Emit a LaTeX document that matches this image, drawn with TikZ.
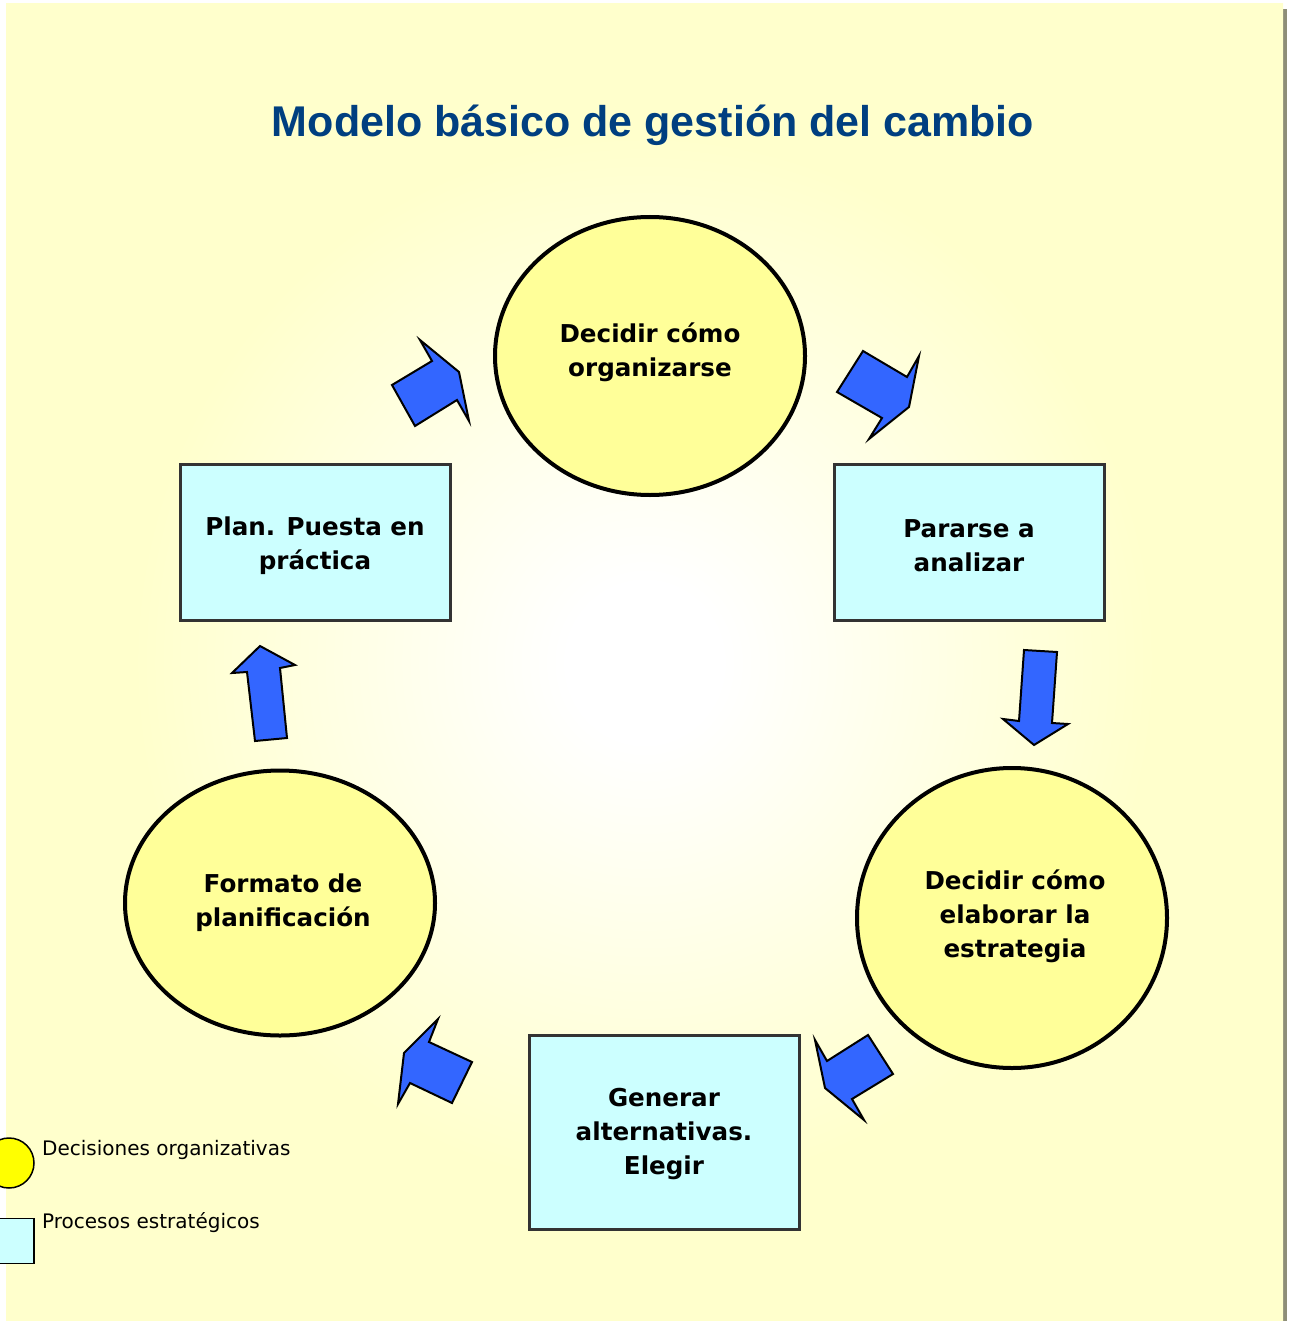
\documentclass[tikz,border=0pt]{standalone}
\usepackage{fontspec}
\setmainfont{DejaVu Sans}
\newfontfamily\titlefont{Liberation Sans}
\usetikzlibrary{shapes.geometric}
\definecolor{bgY}{HTML}{FFFFCC}
\definecolor{decY}{HTML}{FFFF99}
\definecolor{legY}{HTML}{FFFF00}
\definecolor{procC}{HTML}{CCFFFF}
\definecolor{arrowB}{HTML}{3366FF}
\definecolor{titleB}{HTML}{003F80}
\definecolor{shadowG}{HTML}{8E8E78}
\definecolor{rectLine}{HTML}{333333}
\pgfdeclareradialshading{bgshade}{\pgfpoint{0bp}{0bp}}{color(0bp)=(white); color(3bp)=(white); color(20bp)=(bgY); color(50bp)=(bgY)}
\begin{document}
\begin{tikzpicture}[x=1pt,y=-1pt,
  dec/.style={ellipse, draw=black, line width=4pt, fill=decY, inner sep=0pt},
  proc/.style={rectangle, draw=rectLine, line width=3pt, fill=procC, inner sep=0pt, minimum width=270pt},
  lbl/.style={align=center, inner sep=0pt, font=\bfseries\fontsize{24.6}{34}\selectfont},
  blockarrow/.style={fill=arrowB, draw=black, line width=2pt, line join=miter},
  legtext/.style={anchor=west, inner sep=0pt, font=\fontsize{20}{24}\selectfont}
]
\useasboundingbox (0,0) rectangle (1293,1321);
\clip (0,0) rectangle (1293,1321);
% background
\fill[shadowG] (1282,9) rectangle (1287,1321);
\shade[shading=bgshade] (6,4) rectangle (1283,1321);

% title
\node[font=\titlefont\bfseries\fontsize{43}{50}\selectfont, text=titleB, anchor=base, inner sep=0pt]
  (title) at (653,137) {Modelo básico de gestión del cambio};

% decisions (ellipses)
\node[dec, minimum width=310pt, minimum height=278pt] (c1) at (650,356) {};
\node[dec, minimum width=310pt, minimum height=300pt] (c2) at (1012,918) {};
\node[dec, minimum width=310pt, minimum height=265pt] (c3) at (280,903) {};
\node[lbl] (c1t) at ([shift={(0,-4)}]c1.center) {Decidir cómo\\organizarse};
\node[lbl] (c2t) at ([shift={(3,-2)}]c2.center) {Decidir cómo\\elaborar la\\estrategia};
\node[lbl] (c3t) at ([shift={(3,0)}]c3.center) {Formato de\\planificación};

% processes (rectangles)
\node[proc, minimum height=156pt] (r1) at (969,542) {};
\node[proc, minimum height=194pt] (r2) at (664,1132) {};
\node[proc, minimum height=156pt] (r3) at (315,542) {};
\node[lbl] (r1t) at ([shift={(0,4)}]r1.center) {Pararse a\\analizar};
\node[lbl] (r2t) at ([shift={(0,2)}]r2.center) {Generar\\alternativas.\\Elegir};
\node[lbl] (r3t) at ([shift={(0,4)}]r3.center) {Plan. Puesta en\\práctica};

% block arrows
\draw[blockarrow] (420,340) -- (432,361) -- (392,385) -- (415,426) -- (457,400) -- (469,421) -- (459,372) -- cycle;
\draw[blockarrow] (863,351) -- (907,377) -- (919,356) -- (909,407) -- (869,439) -- (882,418) -- (837,392) -- cycle;
\draw[blockarrow] (1024,650) -- (1057,652) -- (1052,723) -- (1068,724) -- (1034,745) -- (1003,719) -- (1019,721) -- cycle;
\draw[blockarrow] (815,1040) -- (827,1061) -- (868,1035) -- (893,1074) -- (852,1099) -- (864,1120) -- (825,1088) -- cycle;
\draw[blockarrow] (438,1019) -- (429,1042) -- (472,1062) -- (452,1103) -- (410,1083) -- (398,1104) -- (404,1053) -- cycle;
\draw[blockarrow] (260,646) -- (295,665) -- (280,668) -- (287,738) -- (255,741) -- (247,672) -- (232,673) -- cycle;

% legend
\node[circle, draw=black, line width=1.5pt, fill=legY, minimum size=50pt, inner sep=0pt] (legc) at (9,1163) {};
\node[rectangle, draw=black, line width=1.5pt, fill=procC, minimum width=46pt, minimum height=45pt, inner sep=0pt] (legr) at (11,1241) {};
\node[legtext] (legct) at (42,1150) {Decisiones organizativas};
\node[legtext] (legrt) at (42,1223) {Procesos estratégicos};
\end{tikzpicture}
\end{document}
